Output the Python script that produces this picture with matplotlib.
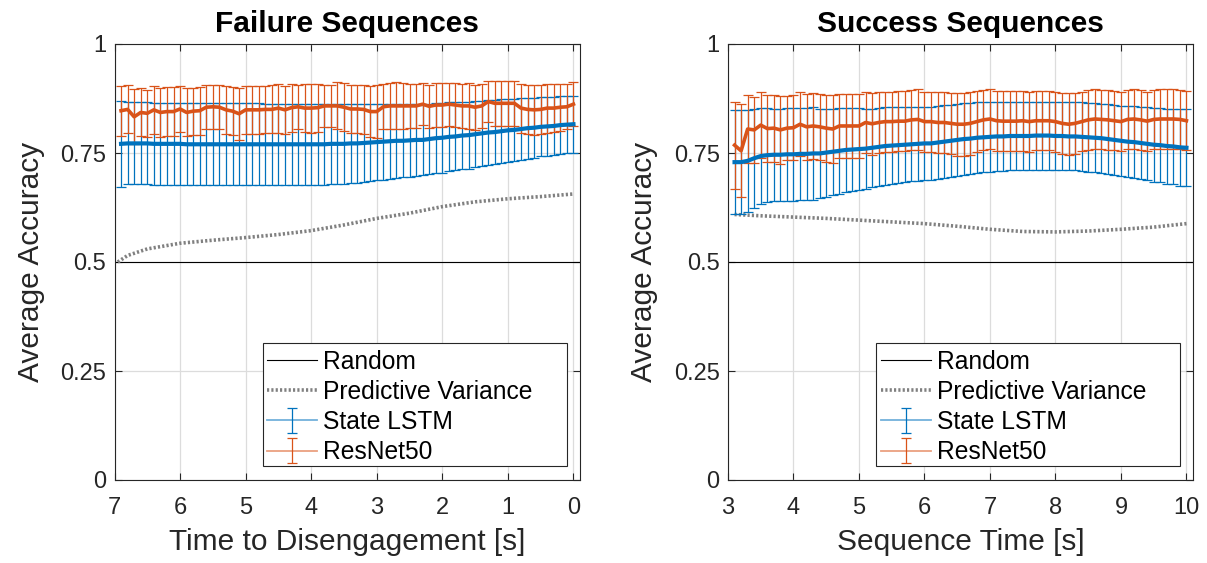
import numpy as np
import matplotlib
matplotlib.use("Agg")
from matplotlib import pyplot as plt
from matplotlib.patches import Rectangle
from matplotlib.lines import Line2D

plt.rcParams['font.family'] = ['Liberation Sans', 'DejaVu Sans']

blue = '#0072BD'
orange = '#D95319'
gray = '#808080'
axcol = '#262626'

# sample times (70 points each, 0.1 s apart)
t_fail = np.round(np.arange(6.9, -0.05, -0.1), 2)
t_succ = np.round(np.arange(3.1, 10.05, 0.1), 2)

# Failure sequences
lstm_fail = [0.771, 0.772, 0.772, 0.772, 0.772, 0.771, 0.771, 0.771, 0.771, 0.771,
             0.770, 0.770, 0.770, 0.770, 0.770, 0.770, 0.770, 0.770, 0.770, 0.770,
             0.770, 0.770, 0.770, 0.770, 0.770, 0.770, 0.770, 0.770, 0.770, 0.770,
             0.770, 0.770, 0.771, 0.771, 0.771, 0.772, 0.772, 0.773, 0.774, 0.775,
             0.776, 0.777, 0.778, 0.778, 0.779, 0.780, 0.780, 0.782, 0.784, 0.785,
             0.787, 0.788, 0.790, 0.791, 0.793, 0.795, 0.797, 0.798, 0.800, 0.802,
             0.803, 0.805, 0.807, 0.808, 0.810, 0.811, 0.812, 0.814, 0.815, 0.816]
lstm_fail_std = [0.099, 0.094, 0.094, 0.094, 0.094, 0.094, 0.094, 0.094, 0.094, 0.094,
                 0.094, 0.094, 0.094, 0.094, 0.094, 0.094, 0.094, 0.094, 0.094, 0.094,
                 0.094, 0.094, 0.093, 0.093, 0.093, 0.093, 0.093, 0.093, 0.093, 0.093,
                 0.093, 0.093, 0.092, 0.092, 0.091, 0.090, 0.090, 0.089, 0.089, 0.088,
                 0.087, 0.086, 0.085, 0.084, 0.083, 0.082, 0.081, 0.081, 0.080, 0.080,
                 0.079, 0.078, 0.077, 0.077, 0.076, 0.075, 0.074, 0.073, 0.073, 0.072,
                 0.071, 0.071, 0.070, 0.069, 0.068, 0.068, 0.067, 0.066, 0.066, 0.065]
resnet_fail = [0.847, 0.850, 0.833, 0.843, 0.841, 0.849, 0.843, 0.845, 0.845, 0.851,
               0.843, 0.846, 0.847, 0.855, 0.856, 0.855, 0.849, 0.846, 0.840, 0.849,
               0.849, 0.849, 0.850, 0.850, 0.853, 0.849, 0.854, 0.856, 0.853, 0.853,
               0.854, 0.858, 0.858, 0.858, 0.855, 0.851, 0.851, 0.850, 0.845, 0.845,
               0.856, 0.858, 0.858, 0.858, 0.858, 0.858, 0.862, 0.857, 0.860, 0.860,
               0.862, 0.860, 0.858, 0.858, 0.855, 0.858, 0.868, 0.864, 0.864, 0.864,
               0.864, 0.853, 0.850, 0.849, 0.850, 0.853, 0.853, 0.855, 0.856, 0.862]
resnet_fail_std = [0.057, 0.055, 0.063, 0.055, 0.054, 0.055, 0.056, 0.056, 0.056, 0.052,
                   0.055, 0.054, 0.055, 0.051, 0.051, 0.051, 0.055, 0.055, 0.060, 0.055,
                   0.055, 0.055, 0.054, 0.055, 0.056, 0.055, 0.055, 0.050, 0.055, 0.056,
                   0.055, 0.049, 0.049, 0.054, 0.055, 0.055, 0.056, 0.056, 0.058, 0.060,
                   0.052, 0.053, 0.054, 0.052, 0.050, 0.050, 0.048, 0.050, 0.050, 0.050,
                   0.049, 0.050, 0.050, 0.052, 0.052, 0.050, 0.046, 0.052, 0.052, 0.052,
                   0.052, 0.056, 0.057, 0.058, 0.057, 0.056, 0.055, 0.054, 0.052, 0.050]
pv_fail_t = [6.95, 6.8, 6.5, 6.0, 5.5, 5.0, 4.5, 4.0, 3.5, 3.0, 2.5, 2.0, 1.5, 1.0, 0.5, 0.0]
pv_fail = [0.500, 0.515, 0.530, 0.543, 0.550, 0.556, 0.563, 0.572, 0.585, 0.600,
           0.612, 0.627, 0.638, 0.645, 0.650, 0.656]

# Success sequences
lstm_succ = [0.729, 0.729, 0.732, 0.738, 0.743, 0.745, 0.746, 0.746, 0.747, 0.747,
             0.748, 0.748, 0.749, 0.749, 0.751, 0.753, 0.755, 0.757, 0.758, 0.759,
             0.760, 0.762, 0.764, 0.766, 0.767, 0.768, 0.769, 0.770, 0.771, 0.772,
             0.772, 0.774, 0.776, 0.778, 0.780, 0.782, 0.783, 0.785, 0.786, 0.787,
             0.788, 0.788, 0.789, 0.789, 0.789, 0.789, 0.790, 0.790, 0.790, 0.789,
             0.789, 0.788, 0.788, 0.787, 0.786, 0.785, 0.784, 0.782, 0.780, 0.778,
             0.776, 0.775, 0.773, 0.771, 0.769, 0.768, 0.766, 0.765, 0.763, 0.762]
lstm_succ_std = [0.120, 0.119, 0.117, 0.114, 0.110, 0.108, 0.106, 0.106, 0.106, 0.106,
                 0.106, 0.106, 0.106, 0.103, 0.101, 0.099, 0.098, 0.096, 0.095, 0.094,
                 0.092, 0.090, 0.089, 0.089, 0.088, 0.087, 0.086, 0.085, 0.085, 0.084,
                 0.084, 0.083, 0.083, 0.082, 0.082, 0.082, 0.081, 0.081, 0.080, 0.080,
                 0.080, 0.080, 0.079, 0.079, 0.079, 0.079, 0.078, 0.078, 0.078, 0.078,
                 0.078, 0.078, 0.078, 0.079, 0.079, 0.079, 0.079, 0.080, 0.080, 0.080,
                 0.081, 0.082, 0.083, 0.084, 0.085, 0.085, 0.086, 0.087, 0.088, 0.0885]
resnet_succ = [0.768, 0.755, 0.805, 0.803, 0.814, 0.806, 0.807, 0.803, 0.807, 0.808,
               0.816, 0.810, 0.812, 0.810, 0.807, 0.805, 0.812, 0.812, 0.812, 0.812,
               0.820, 0.817, 0.820, 0.822, 0.822, 0.823, 0.823, 0.826, 0.827, 0.822,
               0.822, 0.820, 0.820, 0.818, 0.816, 0.816, 0.818, 0.822, 0.826, 0.828,
               0.824, 0.823, 0.823, 0.823, 0.824, 0.822, 0.824, 0.824, 0.824, 0.822,
               0.818, 0.816, 0.818, 0.822, 0.826, 0.828, 0.827, 0.826, 0.824, 0.822,
               0.827, 0.828, 0.826, 0.823, 0.827, 0.828, 0.828, 0.828, 0.827, 0.824]
resnet_succ_std = [0.100, 0.107, 0.077, 0.075, 0.075, 0.076, 0.077, 0.078, 0.074, 0.075,
                   0.074, 0.076, 0.076, 0.076, 0.077, 0.077, 0.074, 0.073, 0.073, 0.073,
                   0.071, 0.071, 0.070, 0.069, 0.069, 0.069, 0.069, 0.069, 0.069, 0.069,
                   0.069, 0.069, 0.070, 0.070, 0.072, 0.072, 0.072, 0.070, 0.069, 0.069,
                   0.069, 0.069, 0.069, 0.069, 0.069, 0.069, 0.068, 0.068, 0.068, 0.069,
                   0.070, 0.071, 0.070, 0.068, 0.068, 0.068, 0.068, 0.068, 0.068, 0.068,
                   0.068, 0.068, 0.068, 0.068, 0.068, 0.068, 0.068, 0.068, 0.068, 0.068]
pv_succ_t = [3.1, 3.5, 4.0, 4.5, 5.0, 5.5, 6.0, 6.5, 7.0, 7.5, 8.0, 8.5, 9.0, 9.5, 10.0]
pv_succ = [0.609, 0.606, 0.603, 0.600, 0.596, 0.592, 0.588, 0.582, 0.575, 0.570,
           0.569, 0.571, 0.575, 0.580, 0.588]

yticks = [0, 0.25, 0.5, 0.75, 1]
ytick_labels = ['0', '0.25', '0.5', '0.75', '1']


def draw_panel(ax, t, lstm, lstm_std, resnet, resnet_std, pv_t, pv, xlim, title, xlabel, xticks):
    ax.plot(xlim, [0.5, 0.5], color='k', lw=0.8, label='Random')
    ax.plot(pv_t, pv, color=gray, lw=2.6, linestyle=(0, (0.6, 0.6)), label='Predictive Variance')
    ax.errorbar(t, lstm, yerr=lstm_std, color=blue, lw=3.0, elinewidth=0.9,
                capsize=3.8, capthick=0.9, label='State LSTM')
    ax.errorbar(t, resnet, yerr=resnet_std, color=orange, lw=2.6, elinewidth=0.9,
                capsize=3.8, capthick=0.9, label='ResNet50')
    ax.set_xlim(xlim)
    ax.set_ylim(0, 1)
    ax.set_xticks(xticks)
    ax.set_yticks(yticks)
    ax.set_yticklabels(ytick_labels)
    ax.grid(True, color='#dcdcdc', lw=0.9)
    ax.set_axisbelow(True)
    ax.tick_params(direction='in', top=True, right=True, length=5, width=0.8,
                   labelsize=17, colors=axcol)
    ax.tick_params(axis='x', pad=12)
    ax.tick_params(axis='y', pad=6)
    for s in ax.spines.values():
        s.set_color(axcol)
        s.set_linewidth(0.8)
    ax.set_title(title, fontsize=21.5, fontweight='bold', pad=9)
    ax.set_xlabel(xlabel, fontsize=21.5, color=axcol, labelpad=7)
    ax.set_ylabel('Average Accuracy', fontsize=21.5, color=axcol, labelpad=11)

    # legend box drawn by hand (wide right margin like the original)
    box_x0, box_y0, box_w, box_h = 0.318, 0.032, 0.654, 0.282
    ax.add_patch(Rectangle((box_x0, box_y0), box_w, box_h, transform=ax.transAxes,
                           facecolor='white', edgecolor=axcol, lw=0.8, zorder=4))
    leg = ax.legend(loc='upper left', bbox_to_anchor=(box_x0, box_y0 + box_h - 0.004),
                    borderaxespad=0, fontsize=17.7, frameon=False,
                    handlelength=2.03, handletextpad=0.24, labelspacing=0.25,
                    borderpad=0.2)
    leg.set_zorder(5)
    # thin, pale lines in the errorbar legend entries
    for ln in leg.findobj(Line2D):
        if ln.get_linewidth() > 2 and ln.get_linestyle() == '-' and ln.get_color() in (blue, orange):
            ln.set_linewidth(1.3)
            ln.set_alpha(0.55)


fig = plt.figure(figsize=(12.07, 5.63), dpi=100)
ax1 = fig.add_axes([114.5 / 1207, 83 / 563, 465.5 / 1207, 436 / 563])
ax2 = fig.add_axes([728 / 1207, 83 / 563, 465 / 1207, 436 / 563])

draw_panel(ax1, t_fail, lstm_fail, lstm_fail_std, resnet_fail, resnet_fail_std,
           pv_fail_t, pv_fail, (7, -0.1), 'Failure Sequences',
           'Time to Disengagement [s]', [7, 6, 5, 4, 3, 2, 1, 0])
draw_panel(ax2, t_succ, lstm_succ, lstm_succ_std, resnet_succ, resnet_succ_std,
           pv_succ_t, pv_succ, (3, 10.1), 'Success Sequences',
           'Sequence Time [s]', [3, 4, 5, 6, 7, 8, 9, 10])

fig.savefig('out.png', dpi=100)
